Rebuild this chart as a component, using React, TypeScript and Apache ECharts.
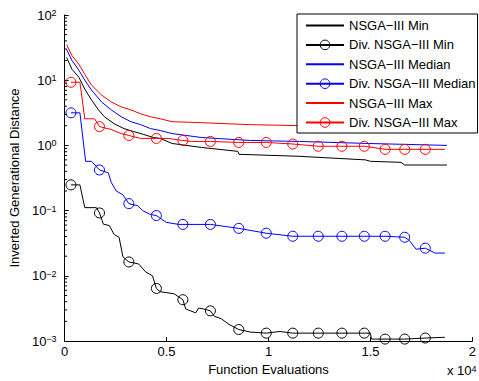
import React, { useEffect, useRef } from "react";
import * as echarts from "echarts";

const FONT = "'Liberation Sans', Arial, Helvetica, sans-serif";

// x positions (function evaluations) where the Div. NSGA-III curves carry a marker
const MARKER_X = [310, 1710, 3150, 4500, 5800, 7150, 8540, 9890, 11190, 12440, 13600, 14700, 15720, 16680, 17690];

// NSGA-III Min
const MIN_X = [100, 360, 700, 990, 1320, 1660, 1950, 2430, 2910, 3390, 3880, 4360, 4690, 5270, 6720, 8500, 8550, 11530, 14750, 15000, 16500, 16680, 18750];
const MIN_Y = [22.3, 14.7, 11.1, 7.3, 4.98, 3.51, 2.75, 2.15, 1.81, 1.63, 1.47, 1.32, 1.28, 1.07, 0.93, 0.81, 0.73, 0.68, 0.6, 0.57, 0.55, 0.5, 0.5];

// NSGA-III Median
const MED_X = [100, 360, 700, 990, 1320, 1810, 2290, 2770, 3250, 3730, 4210, 4690, 5270, 6720, 9120, 11530, 14900, 18750];
const MED_Y = [29.5, 20.1, 14.2, 10.0, 7.05, 4.64, 3.51, 2.75, 2.31, 2.08, 1.81, 1.69, 1.52, 1.32, 1.19, 1.15, 1.07, 1.0];

// NSGA-III Max
const MAX_X = [100, 360, 700, 990, 1320, 1810, 2290, 2770, 3250, 3730, 4210, 4690, 5270, 6720, 9120, 11530, 14900, 18750];
const MAX_Y = [35.1, 23.9, 17.5, 12.3, 8.4, 5.93, 4.64, 3.9, 3.51, 3.05, 2.75, 2.56, 2.31, 2.23, 2.08, 2.01, 1.94, 1.69];

// Div. NSGA-III Min
const DMIN_X = [310, 750, 990, 1560, 1710, 1900, 2190, 2430, 2670, 2860, 3150, 3630, 3970, 4310, 4500, 4690, 5370, 5800, 5940, 6430, 6570, 6820, 7150, 7340, 7680, 8060, 8540, 9120, 9890, 10560, 11190, 12440, 13600, 14700, 15000, 15050, 15720, 16680, 17690, 18650];
const DMIN_Y = [0.248, 0.248, 0.111, 0.111, 0.092, 0.062, 0.059, 0.043, 0.039, 0.0195, 0.0163, 0.0152, 0.0115, 0.01, 0.0064, 0.0057, 0.0053, 0.0043, 0.0031, 0.0027, 0.0032, 0.0031, 0.0029, 0.0024, 0.0022, 0.0018, 0.0015, 0.00137, 0.00132, 0.0014, 0.00132, 0.00132, 0.00132, 0.00132, 0.00132, 0.00107, 0.00107, 0.00107, 0.00111, 0.00114];

// Div. NSGA-III Median
const DMED_X = [310, 750, 1030, 1320, 1710, 2140, 2290, 2530, 2860, 3150, 3580, 3830, 4210, 4500, 4980, 5600, 5800, 7150, 8540, 9890, 11190, 12440, 13600, 14700, 15720, 16680, 16900, 17240, 17690, 18170, 18650];
const DMED_Y = [3.16, 3.16, 0.57, 0.57, 0.42, 0.38, 0.27, 0.2, 0.175, 0.128, 0.119, 0.1, 0.087, 0.084, 0.066, 0.0614, 0.0614, 0.0614, 0.0534, 0.045, 0.0404, 0.0404, 0.0404, 0.0404, 0.0404, 0.039, 0.035, 0.0256, 0.0265, 0.0223, 0.0223];

// Div. NSGA-III Max
const DMAX_X = [310, 750, 990, 1470, 1710, 2290, 2770, 3150, 3730, 4500, 5080, 5800, 6230, 7150, 8540, 9890, 11190, 12440, 13600, 14700, 15720, 16680, 17690, 18650];
const DMAX_Y = [9.3, 9.3, 2.56, 2.56, 1.94, 1.75, 1.52, 1.42, 1.28, 1.28, 1.28, 1.19, 1.15, 1.15, 1.11, 1.11, 1.05, 0.97, 0.97, 0.97, 0.87, 0.87, 0.87, 0.87];

const NAMES = [
  "NSGA\u2212III Min",
  "Div. NSGA\u2212III Min",
  "NSGA\u2212III Median",
  "Div. NSGA\u2212III Median",
  "NSGA\u2212III Max",
  "Div. NSGA\u2212III Max",
];

const X_TICK_DIVISOR = 10000;

function pairs(xs: number[], ys: number[]) {
  return xs.map((x, i) => [x, ys[i]]);
}

function divData(xs: number[], ys: number[]) {
  return xs.map((x, i) => ({
    value: [x, ys[i]],
    symbol: MARKER_X.indexOf(x) >= 0 ? "circle" : "none",
  }));
}

function plainSeries(name: string, color: string, data: any[]) {
  return {
    name,
    type: "line",
    data,
    symbol: "none",
    showSymbol: false,
    lineStyle: { color, width: 1 },
    itemStyle: { color },
    silent: true,
    z: 2,
  };
}

function divSeries(name: string, color: string, data: any[]) {
  return {
    name,
    type: "line",
    data,
    symbol: "circle",
    symbolSize: 10,
    showSymbol: true,
    showAllSymbol: true,
    lineStyle: { color, width: 1 },
    itemStyle: { color: "rgba(255,255,255,0)", borderColor: color, borderWidth: 1 },
    silent: true,
    z: 3,
  };
}

const MINOR_VALUES: number[] = [];
for (let e = -3; e < 2; e++) {
  for (let m = 2; m <= 9; m++) MINOR_VALUES.push(m * Math.pow(10, e));
}

export default function App() {
  const ref = useRef<HTMLDivElement>(null);
  useEffect(() => {
    if (!ref.current) return;
    const chart = echarts.init(ref.current, undefined, { renderer: "svg" });
    const legendData = NAMES.map((name, i) =>
      i % 2 === 0
        ? { name, itemStyle: { opacity: 0, color: "rgba(0,0,0,0)", borderWidth: 0 } }
        : { name, itemStyle: { borderWidth: 1 } }
    );
    const option: any = {
      animation: false,
      backgroundColor: "#fff",
      textStyle: { fontFamily: FONT },
      grid: { left: 61, right: 3, top: 15, bottom: 36, containLabel: false },
      legend: {
        data: legendData,
        orient: "vertical",
        left: 297,
        top: 14,
        itemWidth: 38,
        itemHeight: 12,
        itemGap: 6.4,
        padding: [5, 2, 4, 8],
        borderColor: "#000",
        borderWidth: 1,
        borderRadius: 0,
        backgroundColor: "#fff",
        selectedMode: false,
        textStyle: { fontFamily: FONT, fontSize: 13, color: "#000" },
      },
      xAxis: {
        type: "value",
        min: 0,
        max: 20000,
        interval: 5000,
        name: "Function Evaluations",
        nameLocation: "middle",
        nameGap: 22,
        nameTextStyle: { fontFamily: FONT, fontSize: 13, color: "#000" },
        axisLine: { show: true, onZero: false, lineStyle: { color: "#000", width: 1 } },
        axisTick: { show: true, inside: true, length: 4, lineStyle: { color: "#000" } },
        axisLabel: {
          color: "#000",
          fontFamily: FONT,
          fontSize: 13,
          margin: 4,
          formatter: (v: number) => String(v / X_TICK_DIVISOR),
        },
        splitLine: { show: false },
      },
      yAxis: {
        type: "log",
        logBase: 10,
        min: 0.001,
        max: 100,
        interval: 1,
        name: "Inverted Generational Distance",
        nameLocation: "middle",
        nameGap: 34,
        nameTextStyle: { fontFamily: FONT, fontSize: 13, color: "#000" },
        axisLine: { show: true, lineStyle: { color: "#000", width: 1 } },
        axisTick: { show: true, inside: true, length: 4, lineStyle: { color: "#000" } },
        axisLabel: {
          color: "#000",
          fontFamily: FONT,
          margin: 8,
          formatter: (v: number) => {
            const e = Math.round(Math.log10(v));
            const s = e < 0 ? "\u2212" + Math.abs(e) : String(e);
            return "{b|10}{s|" + s + "}";
          },
          rich: {
            b: { fontFamily: FONT, fontSize: 13, color: "#000" },
            s: { fontFamily: FONT, fontSize: 9, color: "#000", verticalAlign: "top", padding: [0, 0, 3, 0] },
          },
        },
        splitLine: { show: false },
      },
      graphic: [
        {
          type: "text",
          left: 447,
          top: 364,
          style: {
            text: "x 10{s|4}",
            fontFamily: FONT,
            fontSize: 13,
            fill: "#000",
            rich: {
              s: { fontFamily: FONT, fontSize: 9, fill: "#000", verticalAlign: "top", padding: [0, 0, 3, 0] },
            },
          },
        },
      ],
      series: [
        {
          name: "minorTicks",
          type: "custom",
          coordinateSystem: "cartesian2d",
          silent: true,
          z: 1,
          clip: false,
          data: MINOR_VALUES.map((v) => [0, v]),
          encode: { x: 0, y: 1 },
          renderItem: (params: any, api: any) => {
            const p = api.coord([0, api.value(1)]);
            return {
              type: "line",
              shape: { x1: p[0], y1: p[1], x2: p[0] + 2.5, y2: p[1] },
              style: { stroke: "#000", lineWidth: 1 },
            };
          },
        },
        plainSeries(NAMES[0], "#000000", pairs(MIN_X, MIN_Y)),
        divSeries(NAMES[1], "#000000", divData(DMIN_X, DMIN_Y)),
        plainSeries(NAMES[2], "#0000ff", pairs(MED_X, MED_Y)),
        divSeries(NAMES[3], "#0000ff", divData(DMED_X, DMED_Y)),
        plainSeries(NAMES[4], "#ff0000", pairs(MAX_X, MAX_Y)),
        divSeries(NAMES[5], "#ff0000", divData(DMAX_X, DMAX_Y)),
      ],
    };
    chart.setOption(option);
    return () => chart.dispose();
  }, []);
  return (
    <div
      ref={ref}
      style={{ position: "fixed", left: 0, top: 0, width: 479, height: 381, background: "#fff" }}
    />
  );
}
